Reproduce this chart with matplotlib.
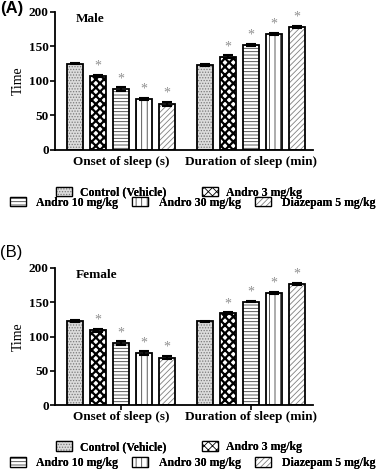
import numpy as np
import matplotlib as mpl
import matplotlib.pyplot as plt
from matplotlib.patches import Patch
from matplotlib.legend_handler import HandlerTuple

plt.rcParams['font.family'] = ['Liberation Serif', 'DejaVu Serif']
plt.rcParams['font.weight'] = 'bold'
plt.rcParams['hatch.linewidth'] = 0.6

# data
groups = ["Onset of sleep (s)", "Duration of sleep (min)"]
treatments = ["Control (Vehicle)", "Andro 3 mg/kg", "Andro 10 mg/kg",
              "Andro 30 mg/kg", "Diazepam 5 mg/kg"]
male_onset = [125, 107, 88, 74, 67]
male_onset_err = [1, 1.5, 2.5, 1.5, 3]
male_dur = [123, 135, 152, 168, 178]
male_dur_err = [1, 2, 1.5, 1.5, 1.5]
female_onset = [123, 109, 90, 76, 69]
female_onset_err = [1.5, 2, 3, 2.5, 2.5]
female_dur = [122, 134, 151, 164, 177]
female_dur_err = [1, 1.5, 1, 1.5, 1.5]
signif = [False, True, True, True, True]

styles = [
    dict(face='#dcdcdc', hatch='......', hc='#7a7a7a', hlw=0.6),
    dict(face='white', hatch='xxxx', hc='black', hlw=1.6),
    dict(face='white', hatch='-----', hc='#404040', hlw=0.6),
    dict(face='white', hatch='|||', hc='#404040', hlw=0.6),
    dict(face='white', hatch='//////', hc='#808080', hlw=0.6),
]

width = 0.7
offset = 5.65


def hatched_patch(st, **kw):
    with mpl.rc_context({'hatch.linewidth': st['hlw']}):
        p = Patch(facecolor=st['face'], hatch=st['hatch'], **kw)
    if hasattr(p, 'set_hatch_linewidth'):
        p.set_hatch_linewidth(st['hlw'])
    return p


def draw_panel(ax, onset, onset_err, dur, dur_err, title, show_ticks):
    for g, (vals, errs) in enumerate([(onset, onset_err), (dur, dur_err)]):
        for i in range(5):
            x = g * offset + i
            st = styles[i]
            with mpl.rc_context({'hatch.linewidth': st['hlw']}):
                bars = ax.bar(x, vals[i], width, color=st['face'], hatch=st['hatch'],
                              edgecolor=st['hc'], linewidth=0, zorder=2)
            for b in bars:
                if hasattr(b, 'set_hatch_linewidth'):
                    b.set_hatch_linewidth(st['hlw'])
            ax.bar(x, vals[i], width, fill=False, edgecolor='black',
                   linewidth=1.3, zorder=3)
            ax.errorbar(x, vals[i], yerr=errs[i], color='black', capsize=3.5,
                        elinewidth=1.5, capthick=1.5, zorder=4)
            if signif[i]:
                ax.text(x, vals[i] + errs[i] + 3, '*', ha='center', va='bottom',
                        color='#909090', fontsize=10, fontweight='normal')
    ax.set_xlim(-0.87, 10.35)
    ax.set_ylim(0, 200)
    ax.set_yticks([0, 50, 100, 150, 200])
    ax.set_xticks([2, offset + 2])
    ax.set_xticklabels(groups, fontsize=9.5)
    if show_ticks:
        ax.tick_params(axis='x', length=3.5, width=1.2, pad=0.5)
    else:
        ax.tick_params(axis='x', length=0, pad=4.5)
    ax.tick_params(axis='y', labelsize=9.5, width=1.2, length=3.5, pad=1)
    for s in ['top', 'right']:
        ax.spines[s].set_visible(False)
    for s in ['left', 'bottom']:
        ax.spines[s].set_linewidth(1.3)
    ax.set_ylabel('Time', fontsize=10, labelpad=3)
    ax.text(0.08, 0.99, title, transform=ax.transAxes, fontsize=9.5,
            va='top', ha='left')


fig = plt.figure(figsize=(3.82, 4.76), dpi=100)
axA = fig.add_axes([0.144, 0.685, 0.675, 0.29])
axB = fig.add_axes([0.144, 0.149, 0.675, 0.288])

draw_panel(axA, male_onset, male_onset_err, male_dur, male_dur_err, 'Male', False)
draw_panel(axB, female_onset, female_onset_err, female_dur, female_dur_err, 'Female', True)

fig.text(0.0, 0.997, '(A)', family='Liberation Sans', fontweight='bold',
         fontsize=12, va='top')
fig.text(0.0, 0.485, '(B)', family='Liberation Sans', fontweight='normal',
         fontsize=12, va='top')

handles = [(hatched_patch(st, edgecolor=st['hc'], linewidth=0),
            Patch(fill=False, edgecolor='black', linewidth=0.9))
           for st in styles]
hmap = {tuple: HandlerTuple(ndivide=1, pad=0)}

for yrow1, yrow2 in [(0.595, 0.574), (0.061, 0.027)]:
    leg1 = fig.legend(handles[:2], treatments[:2], ncol=2, loc='center',
                      bbox_to_anchor=(0.469, yrow1), frameon=False, fontsize=8.5,
                      handlelength=1.35, handleheight=0.85, handletextpad=0.7,
                      columnspacing=3.0, borderpad=0, handler_map=hmap)
    fig.add_artist(leg1)
    leg2 = fig.legend(handles[2:], treatments[2:], ncol=3, loc='center',
                      bbox_to_anchor=(0.504, yrow2), frameon=False, fontsize=8.5,
                      handlelength=1.35, handleheight=0.85, handletextpad=0.9,
                      columnspacing=1.2, borderpad=0, handler_map=hmap)
    fig.add_artist(leg2)

fig.savefig('out.png', dpi=100)
